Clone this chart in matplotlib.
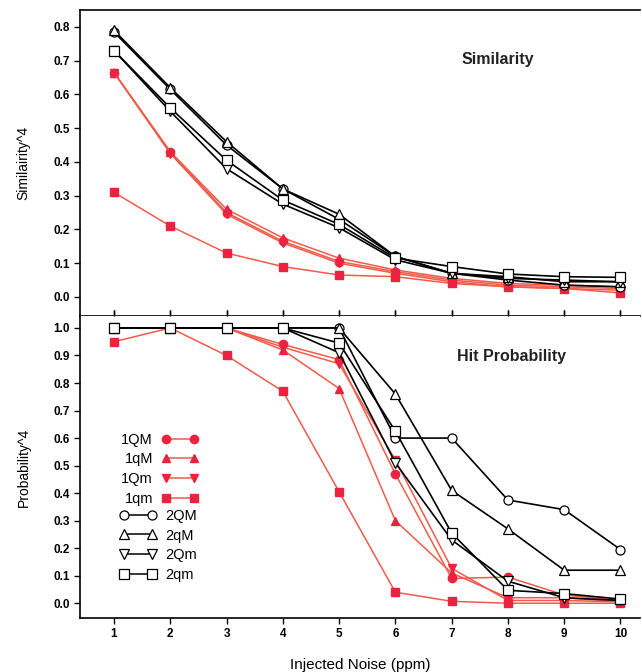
import matplotlib.pyplot as plt
from matplotlib.lines import Line2D

noise = [1, 2, 3, 4, 5, 6, 7, 8, 9, 10]

# similarity^4 (top panel)
sim_1QM = [0.665, 0.43, 0.25, 0.165, 0.105, 0.075, 0.05, 0.035, 0.03, 0.025]
sim_1qM = [0.665, 0.43, 0.26, 0.175, 0.115, 0.08, 0.055, 0.04, 0.035, 0.03]
sim_1Qm = [0.665, 0.425, 0.245, 0.16, 0.10, 0.07, 0.045, 0.03, 0.025, 0.02]
sim_1qm = [0.31, 0.21, 0.13, 0.09, 0.065, 0.06, 0.04, 0.03, 0.025, 0.012]
sim_2QM = [0.785, 0.615, 0.45, 0.32, 0.23, 0.12, 0.07, 0.05, 0.035, 0.03]
sim_2qM = [0.79, 0.62, 0.46, 0.32, 0.245, 0.12, 0.07, 0.06, 0.045, 0.045]
sim_2Qm = [0.73, 0.55, 0.38, 0.275, 0.205, 0.11, 0.07, 0.055, 0.05, 0.045]
sim_2qm = [0.73, 0.56, 0.405, 0.287, 0.215, 0.115, 0.09, 0.068, 0.06, 0.058]

# hit probability^4 (bottom panel)
hit_1QM = [1.0, 1.0, 1.0, 0.94, 0.885, 0.47, 0.09, 0.095, 0.03, 0.01]
hit_1qM = [1.0, 1.0, 1.0, 0.92, 0.78, 0.30, 0.11, 0.02, 0.02, 0.005]
hit_1Qm = [1.0, 1.0, 1.0, 0.93, 0.87, 0.52, 0.127, 0.01, 0.01, 0.005]
hit_1qm = [0.95, 1.0, 0.90, 0.77, 0.405, 0.04, 0.007, 0.0, 0.0, 0.0]
hit_2QM = [1.0, 1.0, 1.0, 1.0, 1.0, 0.60, 0.60, 0.375, 0.34, 0.195]
hit_2qM = [1.0, 1.0, 1.0, 1.0, 1.0, 0.76, 0.41, 0.27, 0.12, 0.12]
hit_2Qm = [1.0, 1.0, 1.0, 1.0, 0.91, 0.51, 0.23, 0.08, 0.02, 0.01]
hit_2qm = [1.0, 1.0, 1.0, 1.0, 0.945, 0.625, 0.255, 0.047, 0.035, 0.015]

red = '#ea2440'
redline = '#f25a4a'

red_series = [('1QM', 'o', sim_1QM, hit_1QM), ('1qM', '^', sim_1qM, hit_1qM),
              ('1Qm', 'v', sim_1Qm, hit_1Qm), ('1qm', 's', sim_1qm, hit_1qm)]
blk_series = [('2QM', 'o', sim_2QM, hit_2QM), ('2qM', '^', sim_2qM, hit_2qM),
              ('2Qm', 'v', sim_2Qm, hit_2Qm), ('2qm', 's', sim_2qm, hit_2qm)]

plt.rcParams['font.family'] = ['Liberation Sans', 'DejaVu Sans']

fig = plt.figure(figsize=(6.42, 6.72), dpi=100)
ax1 = fig.add_axes([0.1246, 0.530, 0.873, 0.455])
ax2 = fig.add_axes([0.1246, 0.080, 0.873, 0.450])

for ax, idx in ((ax1, 2), (ax2, 3)):
    for s in red_series:
        ax.plot(noise, s[idx], color=redline, lw=1.1, marker=s[1], ms=6,
                mfc=red, mec=red, zorder=3)
    for s in blk_series:
        ax.plot(noise, s[idx], color='black', lw=1.2, marker=s[1], ms=6.5,
                mfc='white', mec='black', mew=0.9, zorder=4)
    ax.set_xlim(0.396, 10.355)
    ax.spines['right'].set_visible(False)
    for sp in ax.spines.values():
        sp.set_linewidth(1.2)
    ax.tick_params(labelsize=8.5, width=1, length=4)

ax1.set_ylim(-0.056, 0.85)
ax1.set_yticks([0.0, 0.1, 0.2, 0.3, 0.4, 0.5, 0.6, 0.7, 0.8])
ax1.set_yticklabels(['%.1f' % v for v in ax1.get_yticks()], fontweight='bold', fontsize=8.5)
ax1.set_xticks(noise)
ax1.tick_params(axis='x', direction='in', labelbottom=False)
ax1.set_ylabel('Similairity^4', fontsize=10)
ax1.text(0.745, 0.837, 'Similarity', transform=ax1.transAxes, ha='center',
         va='center', fontsize=11.5, fontweight='bold', color='#222222')

ax2.set_ylim(-0.0545, 1.044)
ax2.set_yticks([0.0, 0.1, 0.2, 0.3, 0.4, 0.5, 0.6, 0.7, 0.8, 0.9, 1.0])
ax2.set_yticklabels(['%.1f' % v for v in ax2.get_yticks()], fontweight='bold', fontsize=8.5)
ax2.set_xticks(noise)
ax2.set_xticklabels([str(v) for v in noise], fontweight='bold', fontsize=8.5)
ax2.tick_params(axis='x', top=True, pad=3)
ax2.spines['top'].set_visible(False)
ax2.set_ylabel('Probability^4', fontsize=10)
ax2.set_xlabel('Injected Noise (ppm)', fontsize=11, labelpad=13)
ax2.text(0.77, 0.865, 'Hit Probability', transform=ax2.transAxes, ha='center',
         va='center', fontsize=11.5, fontweight='bold', color='#222222')
ax1.yaxis.set_label_coords(-0.088, 0.5)
ax2.yaxis.set_label_coords(-0.088, 0.5)

red_handles = [Line2D([], [], color=redline, lw=1.1, marker=s[1], ms=6, mfc=red, mec=red)
               for s in red_series]
blk_handles = [Line2D([], [], color='black', lw=1.1, marker=s[1], ms=6.5, mfc='white',
                      mec='black', mew=0.9) for s in blk_series]
leg1 = ax2.legend(red_handles, [s[0] for s in red_series], loc='upper left',
                  bbox_to_anchor=(0.05, 0.657), frameon=False, markerfirst=False,
                  numpoints=2, handlelength=2.5, fontsize=10.5, labelspacing=0.39,
                  handletextpad=0.6)
ax2.add_artist(leg1)
ax2.legend(blk_handles, [s[0] for s in blk_series], loc='upper left',
           bbox_to_anchor=(0.048, 0.405), frameon=False, markerfirst=True,
           numpoints=2, handlelength=2.5, fontsize=10.5, labelspacing=0.39,
           handletextpad=0.6)

fig.savefig('out.png', dpi=100)
